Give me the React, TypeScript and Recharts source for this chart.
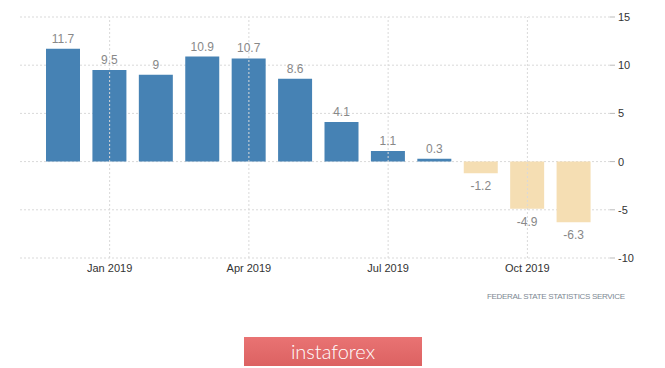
import { BarChart, Bar, XAxis, YAxis, CartesianGrid, ReferenceLine, Cell, LabelList } from "recharts";

// monthly values, Dec 2018 .. Nov 2019
const months = [
  "Dec 2018", "Jan 2019", "Feb 2019", "Mar 2019", "Apr 2019", "May 2019",
  "Jun 2019", "Jul 2019", "Aug 2019", "Sep 2019", "Oct 2019", "Nov 2019",
];
const values = [11.7, 9.5, 9, 10.9, 10.7, 8.6, 4.1, 1.1, 0.3, -1.2, -4.9, -6.3];
const tickMonths = ["Jan 2019", "Apr 2019", "Jul 2019", "Oct 2019"];
const yTicks = [-10, -5, 0, 5, 10, 15];

const FONT = "'Liberation Sans', Arial, sans-serif";
const POS = "#4682b4";
const NEG = "#f5deb3";

const data = months.map((m, i) => ({ month: m, value: values[i] }));

function ValueLabel(props: any) {
  const { x, y, width, height, value } = props;
  const top = Math.min(y, y + height);
  const bottom = Math.max(y, y + height);
  const cx = x + width / 2;
  const neg = value < 0;
  return (
    <text
      x={cx}
      y={neg ? bottom + 17 : top - 6}
      textAnchor="middle"
      fill="#888"
      fontSize={12}
      fontFamily={FONT}
    >
      {value}
    </text>
  );
}

export default function App() {
  return (
    <div style={{ position: "absolute", left: 0, top: 0, width: 665, height: 368, background: "#fff", fontFamily: FONT }}>
      <BarChart width={665} height={290} data={data} margin={{ top: 17, right: 7, bottom: 2, left: 20 }} barSize={34}>
        <CartesianGrid vertical={false} stroke="#d9d9d9" strokeDasharray="2 2" />
        {tickMonths.map((m) => (
          <ReferenceLine key={m} x={m} stroke="#d9d9d9" strokeDasharray="2 2" />
        ))}
        <XAxis
          dataKey="month"
          interval={0}
          axisLine={false}
          tickLine={false}
          tickSize={4}
          tickMargin={2}
          height={30}
          padding={{ left: 20, right: 13 }}
          tick={{ fill: "#333", fontSize: 11, fontFamily: FONT }}
          tickFormatter={(m: string) => (tickMonths.includes(m) ? m : "")}
        />
        <YAxis
          orientation="right"
          width={48}
          domain={[-10, 15]}
          ticks={yTicks}
          axisLine={false}
          tickSize={5}
          tickMargin={3}
          tickLine={{ stroke: "#bbb" }}
          tick={{ fill: "#333", fontSize: 11, fontFamily: FONT, textAnchor: "start" }}
        />
        <Bar dataKey="value" isAnimationActive={false}>
          {data.map((d) => (
            <Cell key={d.month} fill={d.value < 0 ? NEG : POS} />
          ))}
          <LabelList dataKey="value" content={ValueLabel} />
        </Bar>
      </BarChart>
      <svg style={{ position: "absolute", left: 0, top: 0 }} width={665} height={368}>
        <text x={487} y={299} fontSize={8} fill="#7d8893" fontFamily={FONT} textLength={138} lengthAdjust="spacing">
          FEDERAL STATE STATISTICS SERVICE
        </text>
      </svg>
      <div
        style={{
          position: "absolute",
          left: 244,
          top: 337,
          width: 178,
          height: 29,
          background: "linear-gradient(#e97373, #dc6262)",
          color: "#fff",
          fontFamily: "Lato, sans-serif",
          fontWeight: 300,
          fontSize: 20,
          lineHeight: "29px",
          textAlign: "center",
        }}
      >
        instaforex
      </div>
    </div>
  );
}
